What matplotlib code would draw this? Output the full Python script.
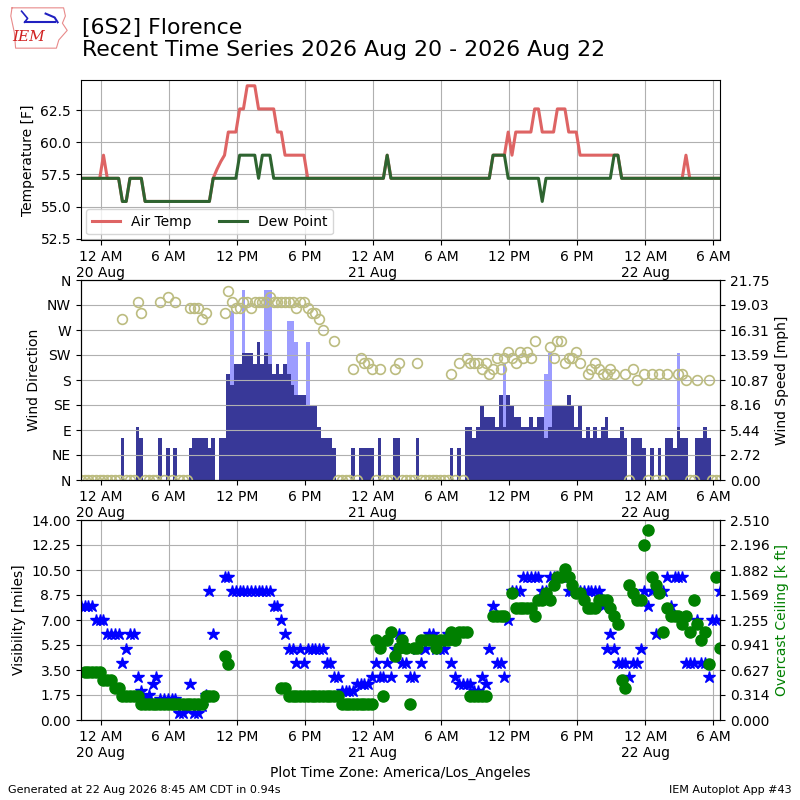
import numpy as np
import pandas as pd
import matplotlib
matplotlib.use("Agg")
import matplotlib.pyplot as plt
import matplotlib.dates as mdates
from matplotlib.ticker import FuncFormatter, FixedLocator

nan = np.nan

# ---------------- data ----------------
obs_start = "2026-08-19 22:15"
obs_step = "20min"
n_obs = 170

air_temp = ([57.2]*6 + [59.0] + [57.2]*4 + [55.4]*2 + [57.2]*4 + [55.4]*18 +
            [57.2, 57.9, 58.5, 59.0] + [60.8]*3 + [62.6]*2 + [64.4]*3 + [62.6]*5 +
            [60.8]*2 + [59.0]*6 + [57.2]*21 + [59.0] + [57.2]*27 + [59.0]*4 +
            [60.8, 59.0] + [60.8]*5 + [62.6]*2 + [60.8]*4 + [62.6]*3 + [60.8]*3 +
            [59.0]*11 + [57.2]*17 + [59.0] + [57.2]*9)

dew_point = ([57.2]*11 + [55.4]*2 + [57.2]*4 + [55.4]*18 + [57.2]*7 + [59.0]*5 +
             [57.2] + [59.0]*3 + [57.2]*30 + [59.0] + [57.2]*27 + [59.0]*4 +
             [57.2]*9 + [55.4] + [57.2]*18 + [59.0]*2 + [57.2]*27)

wind_speed = [
    0, 0, 0, 0, 0, 0, 0, 0, 0, 0, 0, 4.60,
    0, 0, 0, 5.75, 4.60, 0, 0, 0, 0, 4.60, 0, 3.45,
    0, 3.45, 0, 0, 0, 3.45, 4.60, 4.60, 4.60, 4.60, 3.45, 4.60,
    0, 4.60, 4.60, 11.51, 10.36, 12.66, 12.66, 13.81, 13.81, 13.81, 12.66, 14.96,
    12.66, 13.81, 12.66, 11.51, 12.66, 11.51, 12.66, 11.51, 10.36, 9.21, 9.21, 9.21,
    8.06, 8.06, 8.06, 5.75, 4.60, 4.60, 4.60, 3.45, 0, 0, 0, 0,
    3.45, 0, 3.45, 3.45, 3.45, 3.45, 0, 4.60, 0, 0, 0, 4.60,
    4.60, 0, 0, 0, 0, 4.60, 0, 0, 0, 0, 0, 0,
    0, 0, 3.45, 0, 3.45, 0, 5.75, 5.75, 4.60, 5.75, 8.06, 6.90,
    6.90, 6.90, 5.75, 9.21, 5.75, 9.21, 8.06, 6.90, 6.90, 5.75, 5.75, 6.90,
    5.75, 6.90, 6.90, 4.60, 5.75, 8.06, 8.06, 8.06, 8.06, 9.21, 8.06, 5.75,
    8.06, 4.60, 5.75, 4.60, 5.75, 4.60, 5.75, 6.90, 4.60, 4.60, 4.60, 5.75,
    4.60, 0, 4.60, 4.60, 4.60, 3.45, 0, 3.45, 0, 3.45, 0, 4.60,
    4.60, 3.45, 5.75, 4.60, 4.60, 0, 0, 4.60, 4.60, 5.75, 4.60, 0,
    0, 0]

wind_gust = [
    nan, nan, nan, nan, nan, nan, nan, nan, nan, nan, nan, nan,
    nan, nan, nan, nan, nan, nan, nan, nan, nan, nan, nan, nan,
    nan, nan, nan, nan, nan, nan, nan, nan, nan, nan, nan, nan,
    nan, nan, nan, nan, 18.41, nan, nan, 20.714, nan, nan, nan, nan,
    nan, 20.714, 20.714, nan, nan, nan, nan, 17.26, 17.26, 14.96, nan, nan,
    14.96, nan, nan, nan, nan, nan, nan, nan, nan, nan, nan, nan,
    nan, nan, nan, nan, nan, nan, nan, nan, nan, nan, nan, nan,
    nan, nan, nan, nan, nan, nan, nan, nan, nan, nan, nan, nan,
    nan, nan, nan, nan, nan, nan, nan, nan, nan, nan, nan, nan,
    nan, nan, nan, nan, 12.66, nan, nan, nan, nan, nan, nan, nan,
    nan, nan, nan, 11.51, 13.81, nan, nan, nan, nan, nan, nan, nan,
    nan, nan, nan, nan, nan, nan, nan, nan, nan, nan, nan, nan,
    nan, nan, nan, nan, nan, nan, nan, nan, nan, nan, nan, nan,
    nan, nan, 13.81, nan, nan, nan, nan, nan, nan, nan, nan, nan,
    nan, nan]

wind_dir = [
    0, 0, 0, 0, 0, 0, 0, 0, 0, 0, 0, 290,
    0, 0, 0, 320, 300, 0, 0, 0, 0, 320, 0, 330,
    0, 320, 0, 0, 0, 310, 310, 310, 290, 300, nan, nan,
    nan, nan, 300, 340, 320, 310, 310, 320, 320, 310, 320, 320,
    320, 320, 330, 320, 320, 320, 320, 320, 320, 310, 320, 320,
    310, 300, 300, 290, 270, nan, nan, 250, 0, 0, 0, 0,
    200, 0, 220, 210, 210, 200, 0, 200, 0, 0, 0, 200,
    210, 0, 0, 0, 0, 210, 0, 0, 0, 0, 0, 0,
    0, 0, 190, 0, 210, 0, 220, 210, 210, 210, 200, 210,
    190, 200, 220, 200, 220, 230, 220, 210, 230, 220, 230, 220,
    250, nan, nan, nan, 240, 220, 250, 250, 210, 220, 220, 230,
    210, nan, 190, 200, 210, 200, 190, 190, 200, 190, nan, nan,
    190, 0, 200, 180, nan, 190, 0, 190, 0, 190, 0, 190,
    nan, nan, 190, 190, 180, 0, 0, 180, nan, nan, 180, 0,
    0, 0]

visibility = [
    8, 8, 8, 8, 7, 7, 7, 6, 6, 6, 6, 4,
    5, 6, 6, 3, 2, 1.5, 1.75, 2.5, 3, 1.5, 1.5, 1.5,
    1.5, 1.5, 0.5, 0.5, 0.75, 2.5, 0.5, 0.5, 1.0, 1.75, 9, 6,
    nan, nan, 10, 10, 9, 9, 9, 9, 9, 9, 9, 9,
    9, 9, 9, 8, 8, 7, 6, 5, 5, 4, 5, 4,
    5, 5, 5, 5, 5, 4, 4, 3, 3, 2, 2, 2,
    2, 2.5, 2.5, 2.5, 2.5, 3, 4, 3, 3, 4, 3, 5,
    6, 4, 4, 3, 3, 5, 4, 5, 6, 6, 5, 5,
    5, 6, 4, 3, 2.5, 2.5, 2.5, 2.5, 2, 2, 3, 2.5,
    5, 8, 4, 4, 3, 7, 9, 9, 9, 10, 10, 10,
    10, 10, 9, 9, 10, 10, 10, 10, 10, 9, 9, 9,
    9, 9, 9, 9, 9, 9, 8, 5, 6, 5, 4, 4,
    4, 3, 4, 4, 5, 9, 8, 9, 6, 9, 9, 10,
    8, 10, 10, 10, 4, 4, 4, 7, 4, 4, 3, 7,
    7, 9]

ceiling_kft = [
    nan, 0.6, 0.6, 0.6, 0.6, 0.6, 0.5, 0.5, 0.5, 0.4, 0.4, 0.3,
    0.3, 0.3, 0.3, 0.3, 0.2, 0.2, 0.2, 0.2, 0.2, 0.2, 0.2, 0.2,
    0.2, 0.2, 0.2, 0.2, 0.2, 0.2, 0.2, 0.2, 0.2, 0.3, 0.3, 0.3,
    nan, nan, 0.8, 0.7, nan, nan, nan, nan, nan, nan, nan, nan,
    nan, nan, nan, nan, nan, 0.4, 0.4, 0.3, 0.3, 0.3, 0.3, 0.3,
    0.3, 0.3, 0.3, 0.3, 0.3, 0.3, 0.3, 0.3, 0.3, 0.2, 0.2, 0.2,
    0.2, 0.2, 0.2, 0.2, 0.2, 0.2, 1.0, 0.9, 0.3, 1.0, 1.1, 0.8,
    0.9, 1.0, 0.9, 0.2, 0.9, 0.9, 1.0, 1.0, 1.0, 1.0, 0.9, 1.0,
    1.0, 1.0, 1.1, 1.0, 1.1, 1.1, 1.1, 0.3, 0.3, 0.3, 0.3, 0.3,
    nan, 1.3, 1.3, 1.3, 1.3, nan, 1.6, 1.4, 1.4, 1.4, 1.4, 1.4,
    1.3, 1.5, 1.5, 1.6, 1.5, 1.7, 1.8, 1.8, 1.9, 1.8, 1.7, 1.6,
    1.6, 1.5, 1.4, 1.4, 1.4, 1.5, 1.5, 1.5, 1.4, 1.3, 1.2, 0.5,
    0.4, 1.7, 1.6, 1.5, 1.5, 2.2, 2.3903, 1.8, 1.7, 1.6, 1.1, 1.4,
    1.3, 1.3, 1.3, 1.2, 1.3, 1.1, 1.5, 1.2, 1.0, 1.1, 0.7, nan,
    1.8, 0.9]

dir_labels = ["N", "NE", "E", "SE", "S", "SW", "W", "NW", "N"]
title_text = "[6S2] Florence\nRecent Time Series 2026 Aug 20 - 2026 Aug 22"

# ---------------- plotting ----------------
times = pd.date_range(obs_start, periods=n_obs, freq=obs_step)
air_temp = np.array(air_temp, float)
dew_point = np.array(dew_point, float)
wind_speed = np.array(wind_speed, float)
wind_gust = np.array(wind_gust, float)
wind_dir = np.array(wind_dir, float)
visibility = np.array(visibility, float)
ceiling_kft = np.array(ceiling_kft, float)

fig = plt.figure(figsize=(8, 8), dpi=100)
L, W = 0.101, 0.799
ax1 = fig.add_axes([L, 0.70, W, 0.20])
ax2 = fig.add_axes([L, 0.40, W, 0.25])
ax3 = fig.add_axes([L, 0.10, W, 0.25])


def xfmt(x, pos):
    d = mdates.num2date(x)
    h = d.hour
    if h == 0:
        lab = "12 AM"
    elif h == 12:
        lab = "12 PM"
    else:
        lab = "%d %s" % (h % 12, "AM" if h < 12 else "PM")
    if h == 0:
        lab += "\n" + d.strftime("%d %b")
    return lab


def setup_x(ax):
    ax.set_xlim(times[0], times[-1])
    ax.xaxis.set_major_locator(mdates.HourLocator(byhour=[0, 6, 12, 18]))
    ax.xaxis.set_major_formatter(FuncFormatter(xfmt))
    ax.tick_params(axis="x", labelsize=10)


# --- top: temperatures
ax1.plot(times, air_temp, color="#de6464", lw=2.2, label="Air Temp")
ax1.plot(times, dew_point, color="#2e6430", lw=2.2, label="Dew Point")
ax1.set_ylim(52.4, 64.85)
ax1.set_ylabel("Temperature [F]", fontsize=10)
ax1.grid(True)
ax1.legend(loc="lower left", ncol=2, fontsize=10, borderaxespad=0.4)
setup_x(ax1)

# --- middle: wind
bw = 20.0 / 1440.0
ax2.bar(times, np.nan_to_num(wind_gust), width=bw, color="#9c9cff", zorder=1)
ax2.bar(times, wind_speed, width=bw, color="#383898", zorder=2)
spd_max = np.nanmax(wind_gust) * 1.05
ax2.set_ylim(0, spd_max)
ax2.yaxis.set_major_locator(FixedLocator(np.linspace(0, spd_max, 9)))
ax2.yaxis.set_major_formatter(FuncFormatter(lambda v, p: "%.2f" % v))
setup_x(ax2)

ax2d = ax2.twinx()
ax2d.plot(times, wind_dir, ls="none", marker="o", ms=7, mfc="none",
          mec="#bcbc80", mew=1.2)
ax2d.set_ylim(0, 360)
ax2d.set_yticks(np.arange(0, 361, 45))
ax2d.set_yticklabels(dir_labels)
ax2d.yaxis.tick_left()
ax2d.yaxis.set_label_position("left")
ax2d.set_ylabel("Wind Direction", fontsize=10)
ax2d.grid(True)
setup_x(ax2d)
# speed scale on the right (after twinx, which resets it)
ax2.yaxis.tick_right()
ax2.yaxis.set_label_position("right")
ax2.set_ylabel("Wind Speed [mph]", fontsize=10)

# --- bottom: visibility and ceiling
ax3.plot(times, visibility, ls="none", marker="*", ms=9, color="#0000ff")
ax3.set_ylim(0, 14)
ax3.yaxis.set_major_locator(FixedLocator(np.linspace(0, 14, 9)))
ax3.yaxis.set_major_formatter(FuncFormatter(lambda v, p: "%.2f" % v))
ax3.set_ylabel("Visibility [miles]", fontsize=10)
ax3.grid(True)
setup_x(ax3)

ax3c = ax3.twinx()
ax3c.plot(times, ceiling_kft, ls="none", marker="o", ms=8, color="#008000")
c_max = np.nanmax(ceiling_kft) * 1.05
ax3c.set_ylim(0, c_max)
ax3c.yaxis.set_major_locator(FixedLocator(np.linspace(0, c_max, 9)))
ax3c.yaxis.set_major_formatter(FuncFormatter(lambda v, p: "%.3f" % v))
ax3c.set_ylabel("Overcast Ceiling [k ft]", color="#008000", fontsize=10)
setup_x(ax3c)
ax3.set_xlabel("Plot Time Zone: America/Los_Angeles", fontsize=10)

# --- texts
fig.text(0.1025, 0.977, title_text, fontsize=15.8, va="top", ha="left",
         linespacing=1.12)
fig.text(0.01, 0.013, "Generated at 22 Aug 2026 8:45 AM CDT in 0.94s",
         fontsize=8, va="center", ha="left")
fig.text(0.99, 0.013, "IEM Autoplot App #43", fontsize=8, va="center",
         ha="right")

# --- logo (decorative)
lax = fig.add_axes([0.012, 0.935, 0.075, 0.06])
lax.set_xlim(0, 1)
lax.set_ylim(0, 1)
lax.axis("off")
lax.plot([0.04, 0.9, 0.93, 0.88, 0.96, 0.82, 0.78, 0.1, 0.08, 0.02, 0.04],
         [0.92, 0.92, 0.75, 0.6, 0.45, 0.25, 0.08, 0.08, 0.4, 0.75, 0.92],
         color="#e88a8a", lw=0.8)
lax.plot([0.25, 0.75], [0.62, 0.62], color="#2020c0", lw=1.5)
lax.plot([0.2, 0.3, 0.25], [0.85, 0.7, 0.62], color="#2020c0", lw=1.2)
lax.plot([0.6, 0.75, 0.8], [0.8, 0.72, 0.62], color="#2020c0", lw=1.5)
lax.text(0.32, 0.32, "IEM", color="#d02020", fontsize=11, style="italic",
         family="serif", ha="center", va="center")

fig.savefig("out.png", dpi=100)
